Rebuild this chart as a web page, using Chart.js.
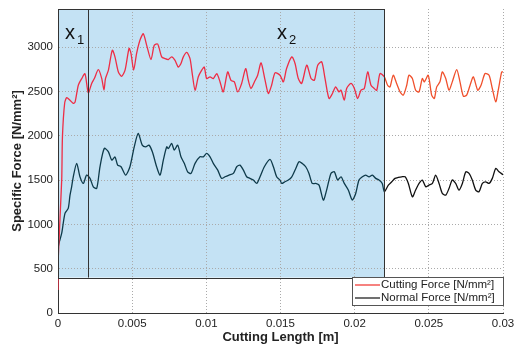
<!DOCTYPE html>
<html>
<head>
<meta charset="utf-8">
<script src="https://cdn.jsdelivr.net/npm/chart.js@4.4.1/dist/chart.umd.min.js"></script>
<style>
  body { margin: 0; background: #fff; }
</style>
</head>
<body>
<canvas id="force" width="514" height="345"></canvas>
<script>
// cutting force [N/mm²] against cutting length [m]
const cuttingX = [0, 0.00002, 0.00025, 0.0003, 0.00045, 0.00059, 0.00081, 0.00103, 0.00115, 0.00137, 0.0016, 0.00182, 0.00204, 0.00227, 0.00245, 0.00272, 0.00295, 0.0031, 0.0032, 0.0034, 0.00366, 0.00384, 0.00407, 0.00429, 0.00452, 0.00479, 0.00492, 0.0051, 0.0053, 0.00553, 0.00575, 0.00598, 0.00627, 0.00649, 0.00672, 0.00699, 0.00721, 0.00744, 0.00766, 0.00789, 0.00811, 0.00829, 0.00845, 0.00868, 0.0089, 0.00905, 0.00924, 0.00946, 0.00969, 0.00986, 0.01002, 0.01025, 0.01047, 0.0107, 0.01092, 0.01114, 0.01144, 0.01166, 0.01189, 0.01211, 0.01238, 0.01265, 0.01283, 0.01301, 0.01324, 0.01346, 0.01369, 0.01396, 0.01418, 0.0144, 0.01463, 0.01497, 0.01519, 0.01541, 0.01576, 0.01598, 0.0162, 0.01643, 0.01677, 0.01706, 0.01728, 0.01751, 0.01778, 0.018, 0.01827, 0.0185, 0.01872, 0.01894, 0.01908, 0.0193, 0.01946, 0.01975, 0.01998, 0.0202, 0.02043, 0.02065, 0.02088, 0.0211, 0.02132, 0.02149, 0.02171, 0.022, 0.02222, 0.02238, 0.0226, 0.02283, 0.02306, 0.02328, 0.02351, 0.02366, 0.02389, 0.02411, 0.02434, 0.02456, 0.0247, 0.02496, 0.02519, 0.02537, 0.02553, 0.02575, 0.02591, 0.02614, 0.02636, 0.02658, 0.02688, 0.0271, 0.02733, 0.02755, 0.02778, 0.028, 0.0283, 0.02852, 0.02879, 0.02906, 0.02928, 0.02951, 0.02968, 0.02991, 0.03];
const cuttingY = [260, 630, 1500, 1990, 2370, 2430, 2400, 2365, 2380, 2570, 2645, 2700, 2485, 2590, 2645, 2745, 2645, 2515, 2645, 2740, 2965, 2890, 2720, 2670, 2740, 2985, 2930, 2740, 2930, 3080, 3150, 3020, 2860, 3020, 3035, 2890, 2870, 2860, 2890, 2850, 2775, 2815, 2890, 2940, 2870, 2700, 2515, 2665, 2740, 2775, 2645, 2665, 2645, 2700, 2610, 2495, 2720, 2625, 2608, 2495, 2590, 2758, 2626, 2533, 2607, 2683, 2822, 2627, 2477, 2570, 2710, 2683, 2608, 2758, 2890, 2815, 2646, 2590, 2796, 2646, 2626, 2796, 2833, 2646, 2420, 2477, 2551, 2495, 2514, 2401, 2533, 2590, 2533, 2420, 2514, 2533, 2720, 2570, 2533, 2514, 2702, 2664, 2570, 2551, 2683, 2590, 2495, 2458, 2570, 2683, 2646, 2514, 2495, 2646, 2608, 2683, 2458, 2420, 2551, 2608, 2720, 2646, 2514, 2608, 2747, 2608, 2446, 2458, 2570, 2664, 2514, 2570, 2702, 2683, 2533, 2382, 2514, 2720, 2720];

// normal force [N/mm²]
const normalX = [0, 0.00002, 0.00025, 0.00047, 0.00069, 0.00081, 0.00092, 0.00103, 0.00126, 0.00148, 0.00171, 0.00193, 0.00216, 0.00238, 0.00261, 0.00283, 0.00312, 0.0034, 0.00362, 0.00384, 0.00402, 0.00425, 0.00456, 0.00485, 0.00514, 0.00541, 0.00568, 0.00591, 0.00613, 0.00636, 0.00665, 0.00688, 0.0071, 0.00733, 0.00744, 0.00766, 0.00784, 0.00807, 0.00829, 0.00852, 0.00874, 0.00897, 0.00924, 0.00957, 0.0098, 0.01002, 0.01025, 0.01047, 0.01077, 0.01103, 0.01126, 0.01153, 0.01182, 0.01205, 0.01227, 0.0125, 0.01272, 0.01294, 0.01317, 0.0134, 0.01362, 0.01391, 0.01429, 0.01452, 0.01474, 0.01497, 0.01508, 0.0153, 0.01553, 0.01576, 0.01603, 0.01625, 0.01647, 0.0167, 0.01692, 0.01714, 0.01737, 0.0176, 0.01789, 0.01811, 0.0184, 0.01863, 0.01885, 0.01908, 0.0193, 0.01957, 0.01984, 0.02007, 0.02029, 0.02052, 0.02074, 0.02097, 0.02119, 0.02142, 0.02164, 0.02186, 0.022, 0.02227, 0.0225, 0.02272, 0.02294, 0.02317, 0.0234, 0.02362, 0.02389, 0.02411, 0.02434, 0.02456, 0.02479, 0.02501, 0.02524, 0.02546, 0.02569, 0.02591, 0.02614, 0.02636, 0.02658, 0.02681, 0.02703, 0.02726, 0.02749, 0.02771, 0.02793, 0.02816, 0.02838, 0.02861, 0.02883, 0.02906, 0.02928, 0.02951, 0.02973, 0.03];
const normalY = [600, 750, 900, 1125, 1180, 1330, 1424, 1537, 1688, 1537, 1462, 1556, 1519, 1424, 1406, 1650, 1857, 1819, 1725, 1760, 1669, 1650, 1556, 1650, 1875, 2026, 1894, 1875, 1894, 1819, 1650, 1556, 1725, 1875, 1856, 1913, 1838, 1894, 1762, 1687, 1593, 1575, 1688, 1762, 1762, 1800, 1762, 1688, 1612, 1519, 1537, 1556, 1575, 1650, 1669, 1612, 1537, 1519, 1500, 1462, 1537, 1650, 1733, 1650, 1537, 1500, 1462, 1481, 1500, 1537, 1631, 1706, 1687, 1650, 1575, 1462, 1462, 1443, 1274, 1387, 1575, 1594, 1500, 1537, 1462, 1387, 1274, 1349, 1500, 1537, 1556, 1537, 1556, 1519, 1500, 1462, 1368, 1443, 1480, 1519, 1530, 1537, 1537, 1462, 1311, 1387, 1462, 1500, 1424, 1443, 1462, 1556, 1462, 1349, 1330, 1405, 1500, 1462, 1387, 1462, 1593, 1575, 1500, 1387, 1368, 1462, 1480, 1462, 1519, 1631, 1594, 1560];

const yTicks = [0, 500, 1000, 1500, 2000, 2500, 3000];
const yMax = 3430;

// highlighted region and marks x1 / x2
const boxStart = 0, boxEnd = 0.022, boxBottom = 400;
const x1Pos = 0.002;

const FONT = '"Liberation Sans", Arial, sans-serif';

const overlay = {
	id: 'overlay',
	beforeDraw(chart) {
		const {ctx, chartArea, scales: {x, y}} = chart;
		const l = x.getPixelForValue(boxStart), r = x.getPixelForValue(boxEnd);
		const b = y.getPixelForValue(boxBottom);
		ctx.save();
		ctx.fillStyle = '#c4e2f4';
		ctx.fillRect(l, chartArea.top, r - l, b - chartArea.top);
		ctx.restore();
	},
	afterDatasetsDraw(chart) {
		const {ctx, chartArea, scales: {x, y}} = chart;
		const l = x.getPixelForValue(boxStart), r = x.getPixelForValue(boxEnd);
		const t = chartArea.top, b = y.getPixelForValue(boxBottom);
		ctx.save();
		ctx.strokeStyle = '#333';
		ctx.lineWidth = 1;
		ctx.strokeRect(Math.round(l) + 0.5, Math.round(t) + 0.5, Math.round(r - l), Math.round(b - t));
		const px = Math.round(x.getPixelForValue(x1Pos)) + 0.5;
		ctx.beginPath();
		ctx.moveTo(px, t);
		ctx.lineTo(px, b);
		ctx.stroke();

		// x1, x2 labels
		ctx.fillStyle = '#111';
		ctx.textBaseline = 'alphabetic';
		ctx.font = '20px ' + FONT;
		ctx.fillText('x', 65, 39);
		ctx.fillText('x', 277, 39);
		ctx.font = '13px ' + FONT;
		ctx.fillText('1', 77, 44);
		ctx.fillText('2', 289, 44);

		// legend
		const lw = 151, lh = 28;
		const lx = chartArea.right - lw, ly = chartArea.bottom - 8 - lh;
		ctx.fillStyle = '#fff';
		ctx.fillRect(lx, ly, lw, lh);
		ctx.strokeStyle = '#555';
		ctx.strokeRect(Math.round(lx) + 0.5, Math.round(ly) + 0.5, lw, lh);
		ctx.font = '11.5px ' + FONT;
		ctx.textBaseline = 'middle';
		chart.data.datasets.forEach((ds, i) => {
			const yy = ly + 8 + i * 13;
			ctx.strokeStyle = ds.legendColor;
			ctx.lineWidth = 1.2;
			ctx.beginPath();
			ctx.moveTo(lx + 3, yy);
			ctx.lineTo(lx + 28, yy);
			ctx.stroke();
			ctx.fillStyle = '#222';
			ctx.fillText(ds.label, lx + 29, yy);
		});
		ctx.restore();
	}
};

const inBox = (inside, outside) => c => c.p0.parsed.x < boxEnd ? inside : outside;

new Chart(document.getElementById('force'), {
	type: 'line',
	data: {
		datasets: [
			{
				label: 'Cutting Force [N/mm²]',
				data: cuttingX.map((v, i) => ({x: v, y: cuttingY[i]})),
				borderColor: '#ee2d45',
				legendColor: '#f0302a',
				segment: {borderColor: inBox('#ee2d45', '#f0502c')},
				borderWidth: 1.3,
				pointRadius: 0,
				tension: 0.25
			},
			{
				label: 'Normal Force [N/mm²]',
				data: normalX.map((v, i) => ({x: v, y: normalY[i]})),
				borderColor: '#0e3a4a',
				legendColor: '#111',
				segment: {borderColor: inBox('#0e3a4a', '#111')},
				borderWidth: 1.3,
				pointRadius: 0,
				tension: 0.25
			}
		]
	},
	options: {
		responsive: false,
		animation: false,
		layout: {padding: {left: 0, top: 9, right: 11, bottom: 0}},
		plugins: {legend: {display: false}, tooltip: {enabled: false}},
		scales: {
			x: {
				type: 'linear',
				min: 0,
				max: 0.03,
				afterFit: s => { s.height = 32; s.paddingLeft = 0; s.paddingRight = 0; },
				ticks: {
					stepSize: 0.005,
					padding: 4,
					color: '#222',
					font: {family: FONT, size: 11.5},
					maxRotation: 0,
					callback: v => String(Number(v.toFixed(4)))
				},
				grid: {color: '#aaa', drawTicks: false},
				border: {display: true, color: '#333', width: 1, dash: [1, 2]},
				title: {
					display: true,
					text: 'Cutting Length [m]',
					color: '#222',
					font: {family: FONT, size: 13, weight: 'bold'},
					padding: {top: 1, bottom: 0}
				}
			},
			y: {
				min: 0,
				max: yMax,
				afterFit: s => { s.width = 58; s.paddingTop = 0; s.paddingBottom = 0; },
				afterBuildTicks: s => { s.ticks = yTicks.map(v => ({value: v})); },
				ticks: {
					padding: 5,
					color: '#222',
					font: {family: FONT, size: 11.5},
					callback: v => String(v)
				},
				grid: {color: '#aaa', drawTicks: false},
				border: {display: true, color: '#333', width: 1, dash: [1, 2]},
				title: {
					display: true,
					text: 'Specific Force [N/mm²]',
					color: '#222',
					font: {family: FONT, size: 13, weight: 'bold'},
					padding: {top: 10, bottom: 0}
				}
			}
		}
	},
	plugins: [overlay]
});
</script>
</body>
</html>
